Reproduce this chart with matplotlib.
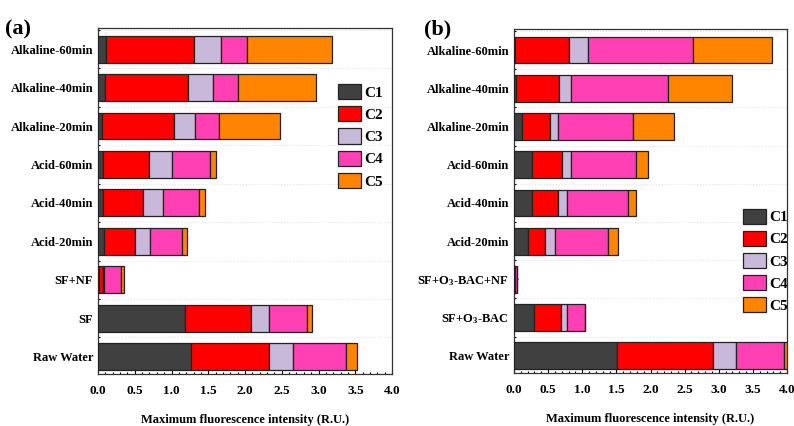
import numpy as np
import matplotlib
matplotlib.use("Agg")
import matplotlib.pyplot as plt
from matplotlib.ticker import MultipleLocator

plt.rcParams['font.family'] = ['Liberation Serif', 'DejaVu Serif']
plt.rcParams['font.weight'] = 'bold'
plt.rcParams['mathtext.fontset'] = 'custom'
plt.rcParams['mathtext.rm'] = 'Liberation Serif:bold'
plt.rcParams['mathtext.default'] = 'rm'

# 组分
components = ['C1', 'C2', 'C3', 'C4', 'C5']
colors = ['#404040', '#ff0000', '#c8b8da', '#ff40b4', '#ff8400']

# (a) 从下到上
labels_a = ['Raw Water', 'SF', 'SF+NF', 'Acid-20min', 'Acid-40min', 'Acid-60min',
            'Alkaline-20min', 'Alkaline-40min', 'Alkaline-60min']
c1_a = [1.26, 1.19, 0.02, 0.08, 0.07, 0.07, 0.06, 0.09, 0.11]
c2_a = [1.07, 0.89, 0.05, 0.43, 0.54, 0.63, 0.97, 1.14, 1.20]
c3_a = [0.32, 0.24, 0.01, 0.20, 0.27, 0.31, 0.29, 0.34, 0.37]
c4_a = [0.73, 0.53, 0.23, 0.43, 0.50, 0.51, 0.33, 0.34, 0.35]
c5_a = [0.15, 0.06, 0.04, 0.07, 0.07, 0.09, 0.82, 1.06, 1.15]

# (b) 从下到上
labels_b = ['Raw Water', 'SF+O$_3$-BAC', 'SF+O$_3$-BAC+NF', 'Acid-20min', 'Acid-40min',
            'Acid-60min', 'Alkaline-20min', 'Alkaline-40min', 'Alkaline-60min']
c1_b = [1.51, 0.30, 0.00, 0.21, 0.26, 0.26, 0.11, 0.03, 0.01]
c2_b = [1.40, 0.39, 0.01, 0.25, 0.39, 0.45, 0.42, 0.63, 0.79]
c3_b = [0.34, 0.09, 0.00, 0.14, 0.13, 0.13, 0.12, 0.18, 0.28]
c4_b = [0.70, 0.26, 0.04, 0.78, 0.89, 0.95, 1.09, 1.41, 1.55]
c5_b = [0.05, 0.00, 0.00, 0.14, 0.12, 0.18, 0.61, 0.95, 1.15]

fig = plt.figure(figsize=(7.94, 4.26), dpi=100)
ax1 = fig.add_axes([98 / 794, 1 - 374 / 426, 294 / 794, 346 / 426])
ax2 = fig.add_axes([514 / 794, 1 - 373 / 426, 273 / 794, 344 / 426])


def draw(ax, labels, series, legend_pos):
    y = np.arange(len(labels))
    left = np.zeros(len(labels))
    for name, vals, col in zip(components, series, colors):
        ax.barh(y, vals, left=left, height=0.7, color=col, edgecolor='#222222',
                linewidth=0.9, label=name, zorder=3)
        left = left + np.array(vals)
    ax.set_xlim(0, 4.0)
    ax.set_ylim(-0.45, len(labels) - 0.45)
    ax.set_yticks(y)
    ax.set_yticklabels(labels, fontsize=9, fontweight='bold')
    ax.set_yticks(y + 0.5, minor=True)
    ax.xaxis.set_minor_locator(MultipleLocator(0.1))
    ax.set_xticks(np.arange(0, 4.01, 0.5))
    ax.set_xticklabels(['%.1f' % v for v in np.arange(0, 4.01, 0.5)],
                       fontsize=9.5, fontweight='bold')
    ax.tick_params(axis='both', which='major', direction='in', length=3, width=0.8)
    ax.tick_params(axis='both', which='minor', direction='in', length=1.5, width=0.8)
    ax.tick_params(axis='x', pad=8)
    ax.grid(axis='y', which='minor', color='#e4e4e4', linestyle=':', linewidth=0.8, zorder=0)
    for s in ax.spines.values():
        s.set_color('#333333')
        s.set_linewidth(0.9)
    ax.set_xlabel('Maximum fluorescence intensity (R.U.)', fontsize=9,
                  fontweight='bold', labelpad=12)
    leg = ax.legend(loc='upper left', bbox_to_anchor=legend_pos, frameon=False,
                    fontsize=11, handlelength=1.5, handleheight=1.15,
                    handletextpad=0.2, labelspacing=0.42, borderpad=0,
                    borderaxespad=0)
    return leg


draw(ax1, labels_a, [c1_a, c2_a, c3_a, c4_a, c5_a], (0.816, 0.838))
draw(ax2, labels_b, [c1_b, c2_b, c3_b, c4_b, c5_b], (0.839, 0.478))

fig.text(5 / 794, 1 - 34 / 426, '(a)', fontsize=16, fontweight='bold')
fig.text(424 / 794, 1 - 34 / 426, '(b)', fontsize=16, fontweight='bold')

plt.savefig('out.png', dpi=100)
